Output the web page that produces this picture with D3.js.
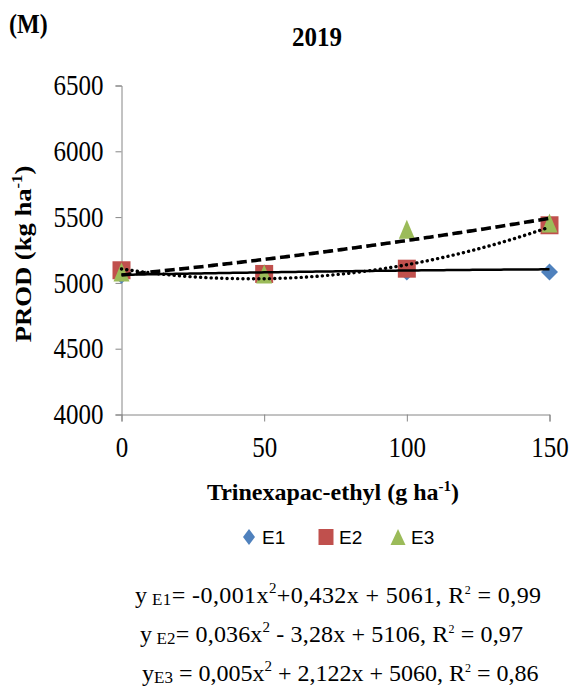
<!DOCTYPE html>
<html>
<head>
<meta charset="utf-8">
<script src="https://cdn.jsdelivr.net/npm/d3@7"></script>
<style>
  body { margin: 0; background: #fff; }
  svg text { font-family: "Times New Roman", "Liberation Serif", Tinos, "DejaVu Serif", serif; }
  svg text.leg { font-family: "Liberation Sans", Arial, sans-serif; }
</style>
</head>
<body>
<svg id="chart" width="569" height="693"></svg>
<script>
// doses de trinexapac-ethyl (g/ha)
var doses = [0, 50, 100, 150];
// produtividade por epoca (kg/ha)
var e1 = [5058, 5075, 5082, 5083];
var e2 = [5096, 5068, 5108, 5438];
var e3 = [5082, 5068, 5408, 5455];
var seriesNames = ["E1", "E2", "E3"];
var seriesColors = ["#4F81BD", "#C0504D", "#9BBB59"];
// coeficientes das regressoes (a x2 + b x + c), como no texto
var coefE1 = [-0.001, 0.432, 5061];
var coefE2 = [0.036, -3.28, 5106];
var coefE3 = [0.005, 2.122, 5060];
var r2 = ["0,99", "0,97", "0,86"];
var yTicks = [4000, 4500, 5000, 5500, 6000, 6500];
var xTicks = [0, 50, 100, 150];

var svg = d3.select("#chart");

var x = d3.scaleLinear().domain([0, 150]).range([121.5, 549.5]);
var y = d3.scaleLinear().domain([4000, 6500]).range([414.5, 85.5]);

// eixos
var yAxis = svg.append("g").attr("transform", "translate(121.5,0)")
  .call(d3.axisLeft(y).tickValues(yTicks).tickSize(6).tickPadding(12).tickFormat(d3.format("d")));
var xAxis = svg.append("g").attr("transform", "translate(0,414.5)")
  .call(d3.axisBottom(x).tickValues(xTicks).tickSize(7).tickPadding(12).tickFormat(d3.format("d")));
[yAxis, xAxis].forEach(function(ax){
  ax.attr("font-family", null);
  ax.select(".domain").attr("stroke", "#868686");
  ax.selectAll(".tick line").attr("stroke", "#868686");
  ax.selectAll(".tick text").attr("font-size", 25).attr("fill", "#000")
    .attr("transform", "scale(1,1.15)");
});
xAxis.selectAll(".tick text").attr("dy", "0.71em");

// simbolos (largura, altura)
function marker(type, w, h){
  var a = w / 2, b = h / 2;
  if (type === "diamond") return "M0," + (-b) + "L" + a + ",0L0," + b + "L" + (-a) + ",0Z";
  if (type === "square") return "M" + (-a) + "," + (-b) + "H" + a + "V" + b + "H" + (-a) + "Z";
  return "M0," + (-b) + "L" + a + "," + b + "H" + (-a) + "Z";
}
var types = ["diamond", "square", "triangle"];
var plotSize = [[17, 17], [18, 18], [16, 19]];
var legSize = [[12, 16], [15, 16], [15, 16]];

// pontos
[e1, e2, e3].forEach(function(vals, i){
  svg.append("g").selectAll("path").data(vals).enter().append("path")
    .attr("d", marker(types[i], plotSize[i][0], plotSize[i][1]))
    .attr("transform", function(d, j){ return "translate(" + x(doses[j]) + "," + y(d) + ")"; })
    .attr("fill", seriesColors[i]);
});

// linhas de tendencia (polinomial de 2a ordem)
var fine = d3.range(0, 151, 1);
function poly(c){ return function(v){ return c[0]*v*v + c[1]*v + c[2]; }; }
var line = d3.line().x(function(d){ return x(d[0]); }).y(function(d){ return y(d[1]); });
var trends = [
  {c: coefE1, dash: null, w: 2.5, cap: "butt"},
  {c: coefE2, dash: "0.1,5.2", w: 3.4, cap: "round"},
  {c: coefE3, dash: "10,4.5", w: 3.6, cap: "butt"}
];
trends.forEach(function(t){
  var f = poly(t.c);
  svg.append("path").datum(fine.map(function(v){ return [v, f(v)]; }))
    .attr("d", line).attr("fill", "none").attr("stroke", "#000")
    .attr("stroke-width", t.w).attr("stroke-linecap", t.cap)
    .attr("stroke-dasharray", t.dash);
});

// titulos
svg.append("text").attr("transform", "translate(9,33) scale(1,1.1)").attr("font-size", 24).attr("font-weight", "bold").text("(M)");
svg.append("text").attr("transform", "translate(317,46) scale(1,1.1)").attr("text-anchor", "middle").attr("font-size", 25).attr("font-weight", "bold").text("2019");

var yl = svg.append("text").attr("transform", "translate(31,254) rotate(-90) scale(1.11,1)")
  .attr("text-anchor", "middle").attr("font-size", 24).attr("font-weight", "bold");
yl.append("tspan").text("PROD (kg ha");
yl.append("tspan").attr("dy", -9).attr("font-size", 15).text("-1");
yl.append("tspan").attr("dy", 9).text(")");

var xl = svg.append("text").attr("x", 333).attr("y", 500)
  .attr("text-anchor", "middle").attr("font-size", 24).attr("font-weight", "bold");
xl.append("tspan").text("Trinexapac-ethyl (g ha");
xl.append("tspan").attr("dy", -9).attr("font-size", 15).text("-1");
xl.append("tspan").attr("dy", 9).text(")");

// legenda
var legX = [249, 326, 398];
seriesNames.forEach(function(n, i){
  svg.append("path").attr("d", marker(types[i], legSize[i][0], legSize[i][1]))
    .attr("transform", "translate(" + legX[i] + ",537)").attr("fill", seriesColors[i]);
  svg.append("text").attr("class", "leg").attr("x", legX[i] + 13).attr("y", 544)
    .attr("font-size", 19).text(n);
});

// equacoes
function fmt(v, dec){ return d3.format("." + dec + "f")(Math.abs(v)).replace(".", ","); }
var eqs = [
  {sub: " E1", parts: ["= -" + fmt(coefE1[0], 3) + "x", "+" + fmt(coefE1[1], 3) + "x + " + coefE1[2] + ", R", " = " + r2[0]], x: 135, y: 603, ls: 0.4},
  {sub: " E2", parts: ["= " + fmt(coefE2[0], 3) + "x", " - " + fmt(coefE2[1], 2) + "x + " + coefE2[2] + ", R", " = " + r2[1]], x: 140, y: 642, ls: 0.15},
  {sub: "E3", parts: [" = " + fmt(coefE3[0], 3) + "x", " + " + fmt(coefE3[1], 3) + "x + " + coefE3[2] + ", R", " = " + r2[2]], x: 142, y: 681, ls: 0}
];
eqs.forEach(function(e){
  var t = svg.append("text").attr("x", e.x).attr("y", e.y).attr("font-size", 24)
    .attr("letter-spacing", e.ls);
  t.append("tspan").text("y");
  t.append("tspan").attr("dy", 2).attr("font-size", 17).text(e.sub);
  t.append("tspan").attr("dy", -2).text(e.parts[0]);
  t.append("tspan").attr("dy", -10).attr("font-size", 15).text("2");
  t.append("tspan").attr("dy", 10).text(e.parts[1]);
  t.append("tspan").attr("dy", -9).attr("font-size", 12).text("2");
  t.append("tspan").attr("dy", 9).text(e.parts[2]);
});
</script>
</body>
</html>
